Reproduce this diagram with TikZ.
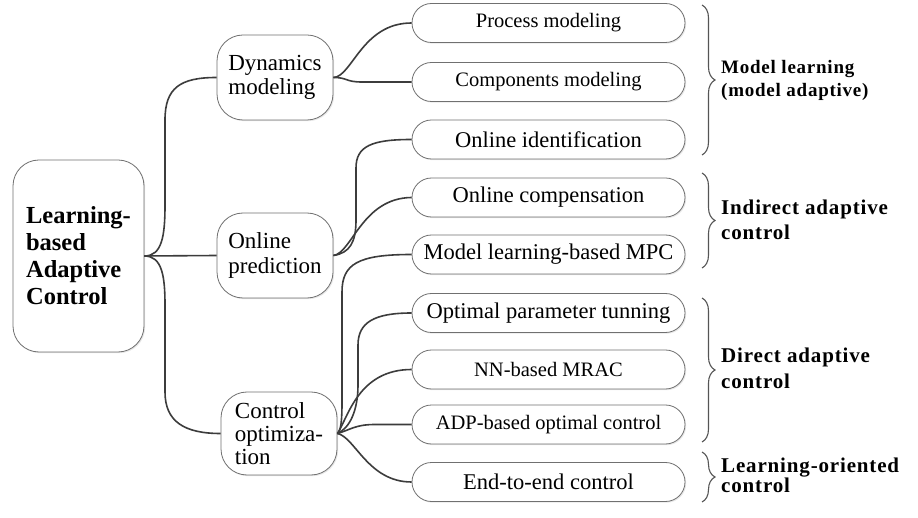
\documentclass[tikz,border=0pt]{standalone}
\usepackage{fontspec}
\setmainfont{Liberation Serif}
\newfontfamily\lblfont[LetterSpace=4]{Liberation Serif}
\usetikzlibrary{decorations.pathreplacing,shadows}
\definecolor{boxline}{HTML}{707070}
\definecolor{connline}{HTML}{3C3C3C}
\definecolor{braceline}{HTML}{555555}
\begin{document}
\begin{tikzpicture}[x=1pt,y=-1pt,
  basebox/.style={draw=boxline,line width=0.8pt,fill=white,inner sep=0pt,
    drop shadow={shadow xshift=1.2pt,shadow yshift=-1.2pt,opacity=0.18,fill=gray}},
  rootbox/.style={basebox,rounded corners=26pt,minimum width=131pt,minimum height=192pt,
    align=left,font=\fontsize{24.5}{27}\selectfont\bfseries},
  midbox/.style={basebox,rounded corners=26pt,minimum width=116pt,minimum height=85pt,align=left},
  leafbox/.style={basebox,rounded corners=19.5pt,minimum width=273pt,minimum height=39pt},
  leafsmall/.style={leafbox,font=\fontsize{20.5}{22}\selectfont},
  leaflarge/.style={leafbox,font=\fontsize{22.5}{24}\selectfont},
  conn/.style={draw=connline,line width=1.6pt},
  bracestyle/.style={draw=braceline,line width=1.1pt,decorate,decoration={brace,amplitude=13pt}},
  lbl/.style={anchor=west,align=left,inner sep=0pt,font=\lblfont\bfseries}
]
\useasboundingbox (0,0) rectangle (918,518);
\fill[white] (0,0) rectangle (918,518);

% root
\node[rootbox] (root) at (78.5,256) {Learning-\\based\\Adaptive\\Control};

% middle level
\node[midbox,font=\fontsize{23}{24}\selectfont] (dyn) at (275,77.5) {Dynamics\\modeling};
\node[midbox,font=\fontsize{23}{25.5}\selectfont] (pred) at (275,255.5) {Online\\prediction};
\node[midbox,minimum height=83pt,font=\fontsize{23}{23}\selectfont] (ctrl) at (279,433.5) {Control\\optimiza-\\tion};

% leaves
\node[leafsmall] (proc) at (548.5,23) {Process modeling};
\node[leafsmall] (comp) at (548.5,82) {Components modeling};
\node[leaflarge] (ident) at (548.5,139.5) {Online identification};
\node[leaflarge] (comp2) at (548.5,197.5) {Online compensation};
\node[leaflarge] (mpc) at (548.5,254.5) {Model learning-based MPC};
\node[leaflarge] (opt) at (548.5,313) {Optimal parameter tunning};
\node[leafsmall] (nn) at (548.5,369.5) {NN-based MRAC};
\node[leafsmall] (adp) at (548.5,424.5) {ADP-based optimal control};
\node[leaflarge] (e2e) at (548.5,482) {End-to-end control};

% connectors root
\draw[conn] (root.east) .. controls (162,256) and (165,236) .. (165,205) -- (165,120)
  .. controls (165,88) and (180,77.5) .. (dyn.west);
\draw[conn] (root.east) -- (pred.west);
\draw[conn] (root.east) .. controls (162,256) and (165,276) .. (165,305) -- (165,392)
  .. controls (165,422) and (185,433.5) .. (ctrl.west);

% connectors dynamics
\draw[conn] (dyn.east) .. controls (352,77) and (362,23) .. (proc.west);
\draw[conn] (dyn.east) .. controls (348,77.5) and (345,82) .. (362,82) -- (comp.west);

% connectors prediction
\draw[conn] (pred.east) .. controls (350,253) and (356,242) .. (356,220) -- (356,168)
  .. controls (356,146) and (372,139.5) .. (ident.west);
\draw[conn] (pred.east) .. controls (352,253) and (362,198) .. (comp2.west);

% connectors control
\draw[conn] (ctrl.east) .. controls (341,431) and (342,420) .. (342,402) -- (342,292)
  .. controls (342,264) and (358,254.5) .. (mpc.west);
\draw[conn] (ctrl.east) .. controls (350,428) and (358,410) .. (358,385) -- (358,345)
  .. controls (358,322) and (375,313) .. (opt.west);
\draw[conn] (ctrl.east) .. controls (348,418) and (358,369.5) .. (nn.west);
\draw[conn] (ctrl.east) .. controls (350,430) and (355,424.5) .. (375,424.5) -- (adp.west);
\draw[conn] (ctrl.east) .. controls (355,437) and (368,482) .. (e2e.west);

% braces
\coordinate (b1t) at (702,5);   \coordinate (b1b) at (702,155);
\coordinate (b2t) at (702,173); \coordinate (b2b) at (702,268);
\coordinate (b3t) at (702,298); \coordinate (b3b) at (702,442);
\coordinate (b4t) at (702,452); \coordinate (b4b) at (702,502);
\draw[bracestyle] (b1t) -- (b1b);
\draw[bracestyle] (b2t) -- (b2b);
\draw[bracestyle] (b3t) -- (b3b);
\draw[bracestyle] (b4t) -- (b4b);

% labels
\node[lbl,font=\lblfont\bfseries\fontsize{19}{23}\selectfont] (lab1) at (721,80) {Model learning\\(model adaptive)};
\node[lbl,font=\lblfont\bfseries\fontsize{21}{25.5}\selectfont] (lab2) at (721,220) {Indirect adaptive\\control};
\node[lbl,font=\lblfont\bfseries\fontsize{21}{26}\selectfont] (lab3) at (721,368.5) {Direct adaptive\\control};
\node[lbl,font=\lblfont\bfseries\fontsize{21}{20.5}\selectfont] (lab4) at (721,475.5) {Learning-oriented\\control};
\end{tikzpicture}
\end{document}
